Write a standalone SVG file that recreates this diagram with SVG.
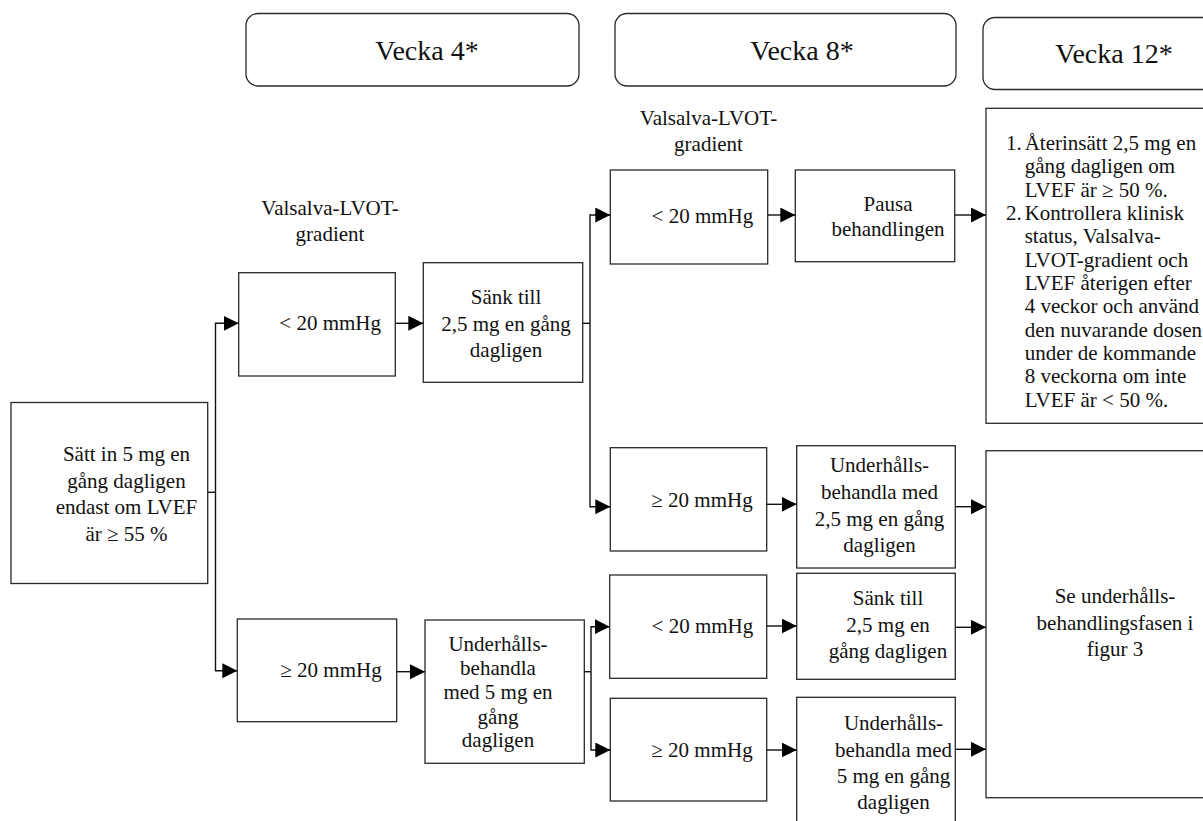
<svg xmlns="http://www.w3.org/2000/svg" width="1203" height="821" viewBox="0 0 1203 821">
<style>
.box{fill:#fff;stroke:#2a2a2a;stroke-width:1.3}
.hdr{fill:#fff;stroke:#2a2a2a;stroke-width:1.3}
text{font-family:'Liberation Serif',Tinos,'Times New Roman',Times,'DejaVu Serif','Noto Serif',serif;fill:#111}
.t{font-size:21px}
.h{font-size:28px;text-anchor:middle}
.c{text-anchor:middle}
.e{text-anchor:end}
.ln{fill:none;stroke:#111;stroke-width:1.4;marker-end:url(#ah)}
.pl{fill:none;stroke:#111;stroke-width:1.4}
</style>
<defs>
<marker id="ah" markerUnits="userSpaceOnUse" markerWidth="16" markerHeight="16" refX="15" refY="7.5" orient="auto">
<path d="M0,0 L15,7.5 L0,15 z" fill="#000"/>
</marker>
</defs>

<g id="hdr-v4"><rect class="hdr" x="246" y="13.5" width="333" height="72.5" rx="12"/><text class="h" x="427" y="60" font-family="Liberation Serif, serif">Vecka 4*</text></g>
<g id="hdr-v8"><rect class="hdr" x="615" y="13.5" width="341" height="72.5" rx="12"/><text class="h" x="802" y="60">Vecka 8*</text></g>
<g id="hdr-v12"><rect class="hdr" x="983" y="17.5" width="240" height="72" rx="12"/><text class="h" x="1114" y="63">Vecka 12*</text></g>

<g id="lbl-v4"><text class="t c" x="330" y="215">Valsalva-LVOT-</text><text class="t c" x="330" y="241">gradient</text></g>
<g id="lbl-v8"><text class="t c" x="708.5" y="124.5">Valsalva-LVOT-</text><text class="t c" x="708.5" y="151">gradient</text></g>

<g id="start"><rect class="box" x="11" y="402.5" width="196.7" height="181"/>
<text class="t c" x="126.5" y="461">Sätt in 5 mg en</text>
<text class="t c" x="126.5" y="487.5">gång dagligen</text>
<text class="t c" x="126.5" y="514">endast om LVEF</text>
<text class="t c" x="126.5" y="540.5">är ≥ 55 %</text></g>

<g id="v4-lt"><rect class="box" x="238.7" y="272.7" width="156.6" height="103.3"/><text class="t e" x="381" y="330">&lt; 20 mmHg</text></g>
<g id="v4-ge"><rect class="box" x="237.3" y="619" width="159.4" height="102.7"/><text class="t e" x="381.7" y="677">≥ 20 mmHg</text></g>

<g id="v4-sank"><rect class="box" x="423.3" y="262.7" width="159.4" height="119.6"/>
<text class="t c" x="506" y="304">Sänk till</text>
<text class="t c" x="506" y="331">2,5 mg en gång</text>
<text class="t c" x="506" y="357">dagligen</text></g>

<g id="v4-maint"><rect class="box" x="425" y="620" width="159.3" height="143.3"/>
<text class="t c" x="498" y="650.5">Underhålls-</text>
<text class="t c" x="498" y="675">behandla</text>
<text class="t c" x="498" y="699.3">med 5 mg en</text>
<text class="t c" x="498" y="723.5">gång</text>
<text class="t c" x="498" y="747">dagligen</text></g>

<g id="v8-lt1"><rect class="box" x="610.3" y="170" width="157.4" height="94"/><text class="t e" x="753.3" y="222.7">&lt; 20 mmHg</text></g>
<g id="v8-ge1"><rect class="box" x="610.3" y="447.7" width="156.4" height="103.3"/><text class="t e" x="752.7" y="506.7">≥ 20 mmHg</text></g>
<g id="v8-lt2"><rect class="box" x="609.7" y="575" width="157" height="103.3"/><text class="t e" x="753.3" y="632.7">&lt; 20 mmHg</text></g>
<g id="v8-ge2"><rect class="box" x="610.3" y="698.3" width="156.4" height="102.7"/><text class="t e" x="752.7" y="756.7">≥ 20 mmHg</text></g>

<g id="pausa"><rect class="box" x="795.3" y="170" width="159.4" height="91.7"/>
<text class="t c" x="888" y="210.5">Pausa</text>
<text class="t c" x="888" y="235.5">behandlingen</text></g>

<g id="maint25"><rect class="box" x="796.7" y="445.7" width="158.6" height="122.3"/>
<text class="t c" x="879.5" y="472">Underhålls-</text>
<text class="t c" x="879.5" y="498.7">behandla med</text>
<text class="t c" x="879.5" y="525.5">2,5 mg en gång</text>
<text class="t c" x="879.5" y="551.5">dagligen</text></g>

<g id="sank25"><rect class="box" x="796.7" y="573.3" width="158.6" height="106"/>
<text class="t c" x="888" y="605">Sänk till</text>
<text class="t c" x="888" y="631.7">2,5 mg en</text>
<text class="t c" x="888" y="658.3">gång dagligen</text></g>

<g id="maint5"><rect class="box" x="796.7" y="697.3" width="158.6" height="135"/>
<text class="t c" x="893.5" y="730">Underhålls-</text>
<text class="t c" x="893.5" y="756.7">behandla med</text>
<text class="t c" x="893.5" y="782.7">5 mg en gång</text>
<text class="t c" x="893.5" y="809.3">dagligen</text></g>

<g id="reinstate"><rect class="box" x="986" y="108.3" width="230" height="315"/>
<text class="t" x="1006" y="150">1.</text><text class="t" x="1024.7" y="150">Återinsätt 2,5 mg en</text>
<text class="t" x="1024.7" y="173.3">gång dagligen om</text>
<text class="t" x="1024.7" y="196.7">LVEF är ≥ 50 %.</text>
<text class="t" x="1006" y="220">2.</text><text class="t" x="1024.7" y="220">Kontrollera klinisk</text>
<text class="t" x="1024.7" y="243.3">status, Valsalva-</text>
<text class="t" x="1024.7" y="266.7">LVOT-gradient och</text>
<text class="t" x="1024.7" y="290">LVEF återigen efter</text>
<text class="t" x="1024.7" y="313.3">4 veckor och använd</text>
<text class="t" x="1024.7" y="336.7">den nuvarande dosen</text>
<text class="t" x="1024.7" y="360">under de kommande</text>
<text class="t" x="1024.7" y="383.3">8 veckorna om inte</text>
<text class="t" x="1024.7" y="406.7">LVEF är &lt; 50 %.</text></g>

<g id="see-fig3"><rect class="box" x="986" y="450.7" width="230" height="347"/>
<text class="t c" x="1115" y="603.3">Se underhålls-</text>
<text class="t c" x="1115" y="630">behandlingsfasen i</text>
<text class="t c" x="1115" y="656">figur 3</text></g>

<g id="connectors">
<path class="pl" d="M207.7,492.3 H215.5"/>
<path class="ln" d="M215.5,492.3 V323.3 H238.7"/>
<path class="ln" d="M215.5,492.3 V670.7 H237.3"/>
<path class="ln" d="M395.3,323.3 H423.3"/>
<path class="ln" d="M396.7,671.7 H425"/>
<path class="pl" d="M582.7,323.3 H590"/>
<path class="ln" d="M590,323.3 V215 H610.3"/>
<path class="ln" d="M590,323.3 V506.7 H610.3"/>
<path class="pl" d="M584.3,671.7 H591"/>
<path class="ln" d="M591,671.7 V626.7 H609.7"/>
<path class="ln" d="M591,671.7 V750 H610.3"/>
<path class="ln" d="M767.7,215 H795.3"/>
<path class="ln" d="M766.7,504.3 H796.7"/>
<path class="ln" d="M766.7,626 H796.7"/>
<path class="ln" d="M766.7,750 H796.7"/>
<path class="ln" d="M954.7,215 H986"/>
<path class="ln" d="M955.3,506.7 H986"/>
<path class="ln" d="M955.3,627.3 H986"/>
<path class="ln" d="M955.3,749.3 H986"/>
</g>
</svg>
